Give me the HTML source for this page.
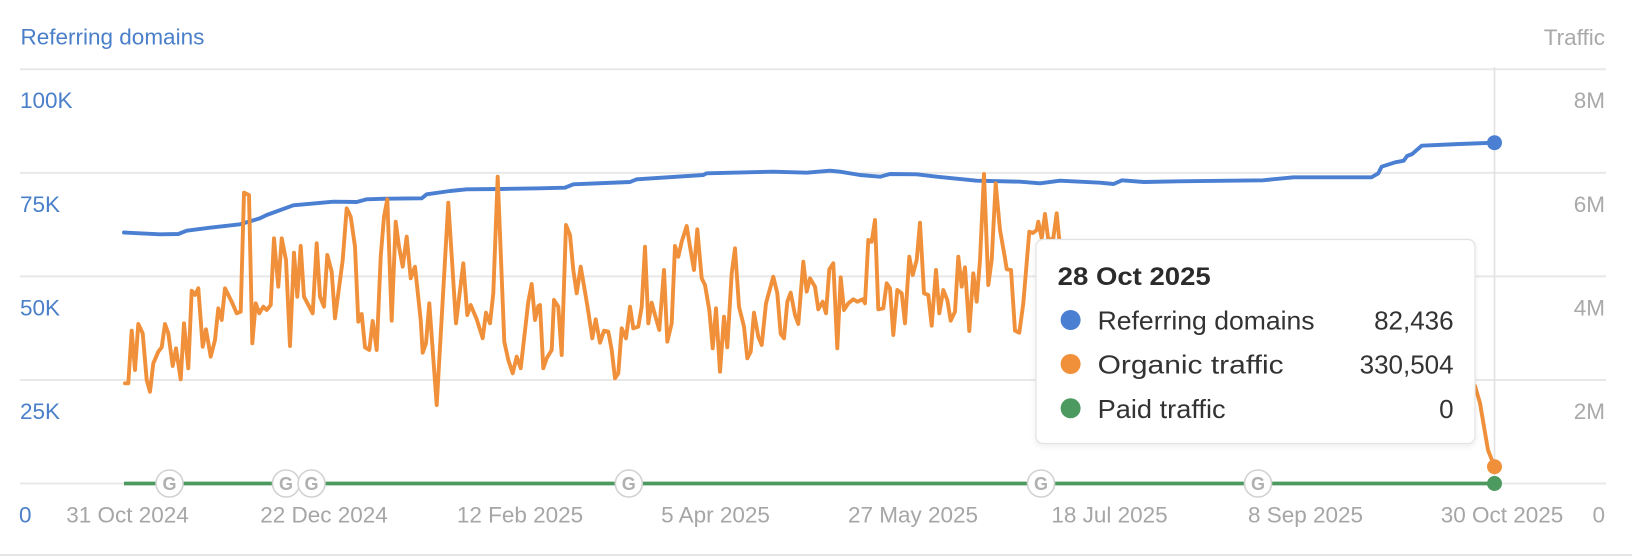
<!DOCTYPE html>
<html>
<head>
<meta charset="utf-8">
<style>
  html,body{margin:0;padding:0;background:#fff;}
  body{width:1632px;height:558px;overflow:hidden;}
  svg{display:block;}
  text{font-family:"Liberation Sans", sans-serif;}
</style>
</head>
<body>
<svg width="1632" height="558" viewBox="0 0 1632 558" xmlns="http://www.w3.org/2000/svg">
  <defs>
    <filter id="sh" x="-10%" y="-10%" width="120%" height="130%">
      <feDropShadow dx="0" dy="2" stdDeviation="3" flood-color="#000" flood-opacity="0.08"/>
    </filter>
  </defs>
  <rect x="0" y="0" width="1632" height="558" fill="#ffffff"/>

  <!-- headers -->
  <text x="20.5" y="44.3" font-size="22.5" fill="#4a7fc9">Referring domains</text>
  <text x="1605" y="45" font-size="22.5" fill="#a9a9a9" text-anchor="end">Traffic</text>

  <!-- gridlines -->
  <g stroke="#e8e8e8" stroke-width="2">
    <line x1="20" y1="69.3" x2="1606" y2="69.3"/>
    <line x1="20" y1="172.9" x2="1606" y2="172.9"/>
    <line x1="20" y1="276.4" x2="1606" y2="276.4"/>
    <line x1="20" y1="380" x2="1606" y2="380"/>
    <line x1="20" y1="483.5" x2="1606" y2="483.5"/>
  </g>
  <!-- bottom border -->
  <line x1="0" y1="555" x2="1632" y2="555" stroke="#e6e6e6" stroke-width="2"/>

  <!-- left axis labels -->
  <g font-size="22.5" fill="#4a7fc9">
    <text x="20" y="108.2">100K</text>
    <text x="20" y="211.8">75K</text>
    <text x="20" y="315.3">50K</text>
    <text x="20" y="418.9">25K</text>
    <text x="19" y="522.4">0</text>
  </g>
  <!-- right axis labels -->
  <g font-size="22.5" fill="#a9a9a9" text-anchor="end">
    <text x="1605" y="108.2">8M</text>
    <text x="1605" y="211.8">6M</text>
    <text x="1605" y="315.3">4M</text>
    <text x="1605" y="418.9">2M</text>
    <text x="1605" y="522.4">0</text>
  </g>
  <!-- x axis labels -->
  <g font-size="22.5" fill="#a6a6a6" text-anchor="middle">
    <text x="127.5" y="522.4">31 Oct 2024</text>
    <text x="324" y="522.4">22 Dec 2024</text>
    <text x="520" y="522.4">12 Feb 2025</text>
    <text x="715.5" y="522.4">5 Apr 2025</text>
    <text x="913" y="522.4">27 May 2025</text>
    <text x="1109.5" y="522.4">18 Jul 2025</text>
    <text x="1305.5" y="522.4">8 Sep 2025</text>
    <text x="1502" y="522.4">30 Oct 2025</text>
  </g>

  <!-- hover line -->
  <line x1="1494.5" y1="67" x2="1494.5" y2="483.5" stroke="#e2e2e2" stroke-width="1.6"/>

  <!-- green paid traffic line -->
  <line x1="124" y1="483.5" x2="1494.5" y2="483.5" stroke="#4c9a5f" stroke-width="3.8"/>

  <!-- blue referring domains line -->
  <polyline fill="none" stroke="#4a7fd1" stroke-width="3.9" stroke-linejoin="round" stroke-linecap="round"
    points="124,232.5 160,234.3 178.3,234 186.7,230.7 210,227.7 240,224.3 260,218.3 266.7,215 293.3,205.3 333.3,201.7 356.7,202 366.7,199.3 386.7,198.7 421.7,198.3 426.7,194.3 450,191 466.7,189.3 500,189 540,188.3 565,187.7 573.3,184.3 630,182 636.7,179.3 703.3,175 706.7,173.3 773.3,171.7 806.7,172.7 830,170.7 840,171.7 860,175 880,176.7 890,174 916.7,174.3 936.7,176.7 976.7,180.7 1020,181.7 1040,183.3 1060,180.7 1080,181.7 1100,182.7 1113.6,184 1122,180.3 1144,182 1178,181.3 1262.9,180.3 1293.4,177.3 1371.5,177.3 1378.3,173.3 1381.6,166.7 1395.2,162.3 1403.7,160.7 1407.1,156 1412.2,154 1421.7,145.7 1459.7,144 1494.5,142.7"/>

  <!-- orange organic traffic line -->
  <polyline fill="none" stroke="#f0903a" stroke-width="3.9" stroke-linejoin="round" stroke-linecap="round"
    points="125,383.3 128.3,383.3 131.7,330.7 135,370 138.3,324 142.7,333.3 146.7,380 150,391.7 153.3,363.3 158.3,351.7 161.7,347.3 165,324 168.3,333.3 172.7,366 176,348.3 180.7,379.3 184,323.3 188.3,368.3 191.7,290.7 195,295 198.3,288.3 202.7,346.7 206,329.3 210.7,356.7 215,340 218.3,308.3 221.7,320 225,288.3 231.7,301.7 236.7,313.3 240.7,311.7 244,192.7 249,195 252.3,343.3 255.7,303.3 259.3,313.3 263.3,306.7 266.7,310 270.7,305 274,238.3 278.3,286.7 281.7,238.3 286,260 290,346 294,252.7 297.3,296.7 300.7,246 304,296.7 312.7,313.3 316.7,243.3 320,296.7 324,306.7 327.3,255 331.7,271.7 335,318.3 342.7,260 346.7,208.3 350.7,216.7 355,246.7 358.3,321.7 361.7,314 365,347.3 369.3,350 372.7,321 376.7,350 380.7,256.7 384,216.7 387.3,199.3 391.7,320.7 395.7,221.7 399,246.7 402.7,266.7 406.7,236.7 410.7,278.3 415,266.7 420.7,320 422.7,352.7 426,343.3 429.3,303.3 436.7,405 448.3,202.7 456,323.3 463.3,263.3 467.3,315 470.7,305 476.7,319.3 482.7,338.3 486,312.7 490,323.3 493.3,293.3 497.7,176.7 504.3,341.7 508.3,360 512.7,373.3 516.7,356.7 520.7,368.3 528.3,301.7 531.7,284 535,320 538.3,306 540,305 543.3,368.3 546.7,358.3 551.7,350 554,300 558.3,306.7 561.7,355 566,225 570,235 573.3,270 576.7,293.3 580.7,266.7 585,291.7 588.3,311.7 592.3,338.3 595.7,319.3 600,342.7 604,330.7 608.3,331.7 611.7,350 615,378.3 618.3,373.3 621.7,328.3 626,338.3 630,306.7 633.3,328.3 638.3,326.7 641.7,306.7 645,246.7 648.3,323.3 651.7,302.7 655,315 659.3,330 664,270 667.3,341.7 671.7,323.3 675,246 678.3,256.7 681.7,241.7 686.7,226 690,246.7 694,270 697.3,229.3 701.7,278.3 705,285 709.3,310 712.7,348.3 716,308.3 720,371.7 724,316.7 727.3,347.3 731.7,273.3 735,248.3 739,306.7 744,326.7 747.3,358.3 750.7,351.7 754,312.7 758.3,336.7 761.7,345 766,303.3 773.3,276.7 777.3,293.3 780.7,334 784,338.3 787.3,301.7 790.7,292.7 795,315 798.3,324 803.3,261.7 806.7,291.7 810,278.3 815,286.7 818.3,309.3 822.7,301.7 826,313.3 829.3,269.3 833.3,263.3 837.3,348.3 840.7,277.3 844,310 848.3,303.3 853.3,299.3 857.3,301.7 862.7,299.3 865,303.3 868.3,240 871.7,241.7 875,220 878.3,309.3 883.3,308.3 886.7,283.3 890,288.3 893.3,335 897.3,290 901.7,293.3 905,323.3 909.3,256.7 912.7,275 916.7,260 920,222.7 924,293.3 928.3,295 931.7,325.7 936,270 939.3,313.3 943.3,290 947.3,300 950.7,320.7 955,311.7 958.3,256.7 961.7,286.7 965,267.3 969.3,331 973.3,273.3 976.7,301.7 980,260 984,174 988.3,285 991.7,260 995.7,183.3 1000,230 1005,258.3 1006.7,269.3 1011,270 1015,330.7 1019.3,332.7 1023.3,303.3 1029.3,231.7 1033,233 1036.7,230 1038.3,221.7 1041.7,238.3 1045,214 1048.3,240 1053.3,238.3 1056.7,213.3 1059.3,240 1070,320 1470,380 1475,386 1480,403 1484,426.7 1488,450 1494.5,466.7"/>

  <!-- G markers -->
  <g>
    <g transform="translate(169.5,483.5)"><circle r="13.5" fill="#fff" stroke="#d2d2d2" stroke-width="1.6"/><text y="6.5" font-size="18" font-weight="bold" fill="#b0b0b0" text-anchor="middle">G</text></g>
    <g transform="translate(286,483.5)"><circle r="13.5" fill="#fff" stroke="#d2d2d2" stroke-width="1.6"/><text y="6.5" font-size="18" font-weight="bold" fill="#b0b0b0" text-anchor="middle">G</text></g>
    <g transform="translate(311.5,483.5)"><circle r="13.5" fill="#fff" stroke="#d2d2d2" stroke-width="1.6"/><text y="6.5" font-size="18" font-weight="bold" fill="#b0b0b0" text-anchor="middle">G</text></g>
    <g transform="translate(628.8,483.5)"><circle r="13.5" fill="#fff" stroke="#d2d2d2" stroke-width="1.6"/><text y="6.5" font-size="18" font-weight="bold" fill="#b0b0b0" text-anchor="middle">G</text></g>
    <g transform="translate(1041,483.5)"><circle r="13.5" fill="#fff" stroke="#d2d2d2" stroke-width="1.6"/><text y="6.5" font-size="18" font-weight="bold" fill="#b0b0b0" text-anchor="middle">G</text></g>
    <g transform="translate(1258,483.5)"><circle r="13.5" fill="#fff" stroke="#d2d2d2" stroke-width="1.6"/><text y="6.5" font-size="18" font-weight="bold" fill="#b0b0b0" text-anchor="middle">G</text></g>
  </g>

  <!-- end dots -->
  <circle cx="1494.5" cy="142.7" r="7.5" fill="#4a7fd1"/>
  <circle cx="1494.5" cy="466.7" r="7.5" fill="#f0903a"/>
  <circle cx="1494.5" cy="483.5" r="7.5" fill="#4c9a5f"/>

  <!-- tooltip -->
  <rect x="1036" y="239.5" width="439" height="204" rx="7" ry="7" fill="#ffffff" stroke="#e2e2e2" stroke-width="1.2" filter="url(#sh)"/>
  <text x="1057.7" y="285" font-size="25" font-weight="bold" fill="#2b2b2b" textLength="153" lengthAdjust="spacingAndGlyphs">28 Oct 2025</text>
  <circle cx="1070.6" cy="320" r="10" fill="#4a7fd1"/>
  <circle cx="1070.6" cy="364" r="10" fill="#f0903a"/>
  <circle cx="1070.6" cy="408.3" r="10" fill="#4c9a5f"/>
  <g font-size="26" fill="#333333">
    <text x="1097.6" y="329.5" textLength="217" lengthAdjust="spacingAndGlyphs">Referring domains</text>
    <text x="1097.6" y="373.5" textLength="186" lengthAdjust="spacingAndGlyphs">Organic traffic</text>
    <text x="1097.6" y="417.8" textLength="128" lengthAdjust="spacingAndGlyphs">Paid traffic</text>
  </g>
  <g font-size="26" fill="#333333" text-anchor="end">
    <text x="1453.6" y="329.5">82,436</text>
    <text x="1453.6" y="373.5">330,504</text>
    <text x="1453.6" y="417.8">0</text>
  </g>
</svg>
</body>
</html>
